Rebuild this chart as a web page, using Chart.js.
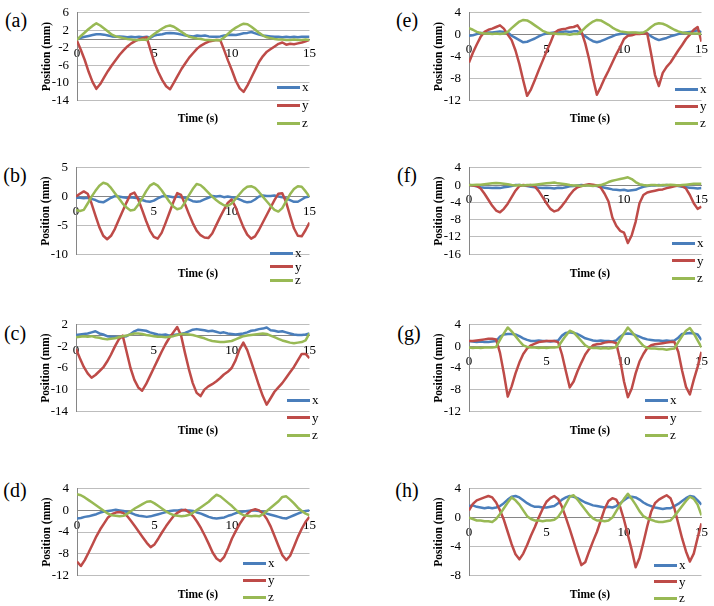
<!DOCTYPE html>
<html>
<head>
<meta charset="utf-8">
<script src="https://cdn.jsdelivr.net/npm/chart.js@4.4.0/dist/chart.umd.min.js"></script>
<style>
  html, body { margin: 0; padding: 0; background: #fff; }
  #fig { position: relative; width: 714px; height: 606px; overflow: hidden; font-family: "Liberation Serif", "Times New Roman", serif; color: #000; }
  #fig canvas { position: absolute; }
  .tag { position: absolute; font-size: 20px; line-height: 1; transform: translate(-50%, -50%); }
  .xt { position: absolute; font-size: 11.5px; font-weight: bold; white-space: nowrap; transform: translate(-50%, -50%); }
  .row { position: absolute; height: 14px; display: flex; align-items: center; font-size: 13px; }
  .sw { width: 23px; height: 3px; margin-right: 2px; }
</style>
</head>
<body>
<div id="fig"></div>
<script>
// ── shared time axis (s) and tick labels ──────────────────────
const TIME = [0, 0.25, 0.5, 0.75, 1, 1.25, 1.5, 1.75, 2, 2.25,
              2.5, 2.75, 3, 3.25, 3.5, 3.75, 4, 4.25, 4.5, 4.75,
              5, 5.25, 5.5, 5.75, 6, 6.25, 6.5, 6.75, 7, 7.25,
              7.5, 7.75, 8, 8.25, 8.5, 8.75, 9, 9.25, 9.5, 9.75,
              10, 10.25, 10.5, 10.75, 11, 11.25, 11.5, 11.75, 12, 12.25,
              12.5, 12.75, 13, 13.25, 13.5, 13.75, 14, 14.25, 14.5, 14.75,
              15];
const X_TICKS = [0, 5, 10, 15];

// ── (a) ──
const aTicks = [6, 2, -2, -6, -10, -14];
const aX = [0.0,0.3,0.5,0.7,0.9,1.1,1.1,1.0,0.8,0.6, 0.5,0.6,0.5,0.4,0.5,0.4,0.5,0.4,0.5,0.3,
            0.8,1.0,1.1,1.3,1.4,1.3,1.2,1.0,0.8,0.7, 0.6,0.8,0.7,0.8,0.6,0.5,0.5,0.6,0.8,0.9,
            1.0,0.9,1.1,1.3,1.4,1.6,1.3,1.0,0.8,0.7, 0.6,0.5,0.5,0.4,0.5,0.4,0.5,0.4,0.5,0.5, 0.5];
const aY = [-0.4,-2.5,-4.8,-7.5,-9.8,-11.4,-10.3,-8.8,-7.3,-6.0, -4.8,-3.6,-2.6,-1.7,-1.0,-0.5,-0.1,0.2,0.4,-2.6,
            -5.5,-7.6,-9.4,-10.8,-11.5,-10.0,-8.4,-6.8,-5.5,-4.2, -3.2,-2.2,-1.5,-1.0,-0.6,-0.4,-0.2,-0.3,-2.6,-5.0,
            -7.2,-9.6,-11.3,-12.1,-10.6,-8.8,-7.0,-5.2,-3.9,-2.9, -2.3,-1.7,-1.1,-0.8,-1.3,-1.1,-1.2,-1.0,-0.8,-0.5, -0.2];
const aZ = [-0.2,0.7,1.5,2.3,3.0,3.6,3.1,2.4,1.7,1.0, 0.6,0.4,0.2,0.0,-0.1,-0.2,-0.2,-0.1,-0.2,0.5,
            1.2,1.8,2.4,2.9,3.1,2.8,2.2,1.6,1.0,0.5, 0.3,0.1,0.0,-0.2,-0.2,-0.3,-0.2,-0.3,0.4,1.2,
            2.0,2.6,3.1,3.5,3.4,2.8,2.1,1.4,0.8,0.4, 0.2,0.0,-0.1,-0.1,-0.2,-0.2,-0.1,-0.2,-0.2,-0.1, -0.2];

// ── (e) ──
const eTicks = [4, 0, -4, -8, -12];
const eX = [-0.2,-0.1,0.1,0.3,0.3,0.4,0.4,0.5,0.6,0.5, 0.4,-0.2,-0.6,-1.0,-1.4,-1.3,-1.0,-0.7,-0.3,0.0,
            0.2,0.3,0.4,0.4,0.5,0.6,0.5,0.6,0.6,0.2, -0.3,-0.8,-1.2,-1.4,-1.2,-0.9,-0.6,-0.3,0.0,0.1,
            0.2,0.2,0.3,0.3,0.3,0.3,0.2,-0.3,-0.7,-1.0, -0.8,-0.6,-0.3,-0.1,0.1,0.3,0.4,0.5,0.6,0.8, 0.4];
const eY = [-5.1,-3.3,-1.8,-0.4,0.5,0.9,1.1,1.4,1.7,1.1, 0.0,-1.0,-2.9,-5.4,-8.4,-11.2,-10.0,-8.3,-6.5,-4.8,
            -3.1,-1.5,0.3,0.8,1.0,1.1,1.3,1.4,1.7,0.6, -1.6,-4.5,-8.0,-11.0,-9.6,-8.0,-6.6,-5.1,-3.6,-2.3,
            -0.8,-0.2,-0.1,0.1,0.1,0.2,0.2,-3.5,-7.4,-9.4, -7.0,-5.9,-5.1,-4.0,-2.9,-1.9,-0.8,0.0,0.9,1.4, -1.3];
const eZ = [1.2,0.9,0.5,0.3,0.2,0.2,0.1,0.2,0.1,0.2, 0.5,1.2,1.8,2.4,2.7,2.6,2.2,1.7,1.2,0.7,
            0.4,0.2,0.2,0.1,0.1,0.1,0.0,0.1,0.1,0.6, 1.3,1.9,2.4,2.7,2.6,2.2,1.8,1.3,0.9,0.6,
            0.5,0.4,0.4,0.4,0.3,0.4,0.8,1.4,1.9,2.1, 2.0,1.7,1.3,0.9,0.6,0.4,0.3,0.2,0.2,0.2, 0.1];

// ── (b) ──
const bTicks = [5, 0, -5, -10];
const bX = [-0.2,-0.2,-0.3,-0.2,-0.4,-0.6,-0.9,-1.0,-0.6,-0.2, 0.1,0.0,-0.1,-0.2,-0.1,-0.2,-0.3,-0.6,-0.8,-0.9,
            -0.7,-0.3,0.0,0.1,0.0,-0.1,0.0,-0.1,-0.2,-0.5, -0.8,-0.9,-0.8,-0.5,-0.2,0.1,0.0,0.1,-0.1,0.0,
            -0.1,-0.2,-0.5,-0.8,-1.0,-0.9,-0.5,0.0,0.2,0.1, 0.1,0.2,0.0,-0.1,-0.3,-0.6,-0.9,-0.9,-0.5,-0.1, 0.0];
const bY = [0.0,0.5,0.9,0.5,-1.2,-3.3,-5.3,-6.8,-7.4,-6.8, -5.6,-4.0,-2.5,-1.0,0.4,0.7,-0.5,-2.3,-4.2,-5.9,
            -7.0,-7.3,-6.3,-4.6,-2.8,-1.0,0.6,0.3,-1.3,-3.0, -4.6,-5.9,-6.7,-7.1,-7.2,-6.4,-5.0,-3.6,-2.3,-1.1,
            -0.5,-1.8,-3.6,-5.3,-6.6,-7.3,-6.9,-5.8,-4.5,-3.2, -1.9,-0.6,0.5,0.6,-1.0,-3.3,-5.5,-6.8,-6.9,-5.8, -4.5];
const bZ = [-2.3,-2.5,-2.3,-1.2,0.0,1.0,1.9,2.4,2.2,1.5, 0.6,-0.3,-1.2,-1.9,-2.4,-2.3,-1.4,-0.3,0.9,1.9,
            2.3,1.9,1.1,0.1,-0.9,-1.7,-2.2,-2.0,-1.0,0.2, 1.3,2.2,2.0,1.4,0.7,0.0,-0.6,-1.1,-1.5,-1.6,
            -1.2,-0.4,0.4,1.2,1.7,1.8,1.5,0.8,0.0,-0.8, -1.6,-2.3,-2.6,-2.0,-0.8,0.4,1.3,1.8,1.7,0.9, 0.0];

// ── (f) ──
const fTicks = [4, 0, -4, -8, -12, -16];
const fX = [0.0,-0.1,-0.3,-0.5,-0.6,-0.6,-0.7,-0.6,-0.7,-0.5, -0.4,-0.2,0.0,0.0,-0.1,-0.2,-0.4,-0.5,-0.6,-0.7,
            -0.6,-0.7,-0.8,-0.6,-0.7,-0.5,-0.3,-0.2,-0.1,0.0, -0.1,0.0,-0.1,-0.2,-0.4,-0.6,-0.8,-1.0,-1.1,-1.2,
            -1.1,-1.3,-1.2,-1.1,-0.7,-0.4,-0.2,-0.1,-0.1,0.0, -0.1,0.0,-0.1,-0.1,-0.2,-0.4,-0.5,-0.6,-0.7,-0.8, -0.7];
const fY = [0.0,-0.1,-0.2,-0.8,-2.0,-3.4,-4.8,-5.9,-6.3,-5.5, -4.3,-2.8,-1.3,-0.2,0.0,-0.1,0.0,-0.3,-1.4,-2.8,
            -4.2,-5.5,-6.1,-5.8,-4.8,-3.6,-2.3,-1.2,-0.5,-0.2, 0.0,0.2,0.1,-0.1,-0.6,-2.0,-3.8,-7.5,-9.4,-10.6,
            -11.0,-13.4,-11.6,-8.5,-4.2,-2.3,-1.7,-1.5,-1.3,-1.1, -1.0,-0.7,-0.5,-0.3,-0.1,-0.2,-0.8,-2.3,-4.2,-5.5, -5.0];
const fZ = [0.0,0.0,0.1,0.1,0.2,0.3,0.4,0.5,0.4,0.3, 0.2,0.0,-0.1,0.0,-0.1,0.0,0.0,0.1,0.2,0.3,
            0.4,0.5,0.6,0.4,0.3,0.2,0.0,-0.1,-0.1,-0.2, -0.1,-0.1,-0.2,-0.1,0.0,0.3,0.7,1.0,1.2,1.4,
            1.6,1.8,1.4,0.7,0.2,0.0,-0.1,0.0,0.0,-0.1, 0.0,0.0,0.1,0.0,-0.1,0.0,0.1,0.2,0.3,0.3, 0.3];

// ── (c) ──
const cTicks = [2, -2, -6, -10, -14];
const cX = [0.1,0.2,0.3,0.4,0.6,0.8,0.4,0.2,-0.1,-0.2, -0.2,-0.3,-0.2,-0.1,0.3,0.8,1.1,1.0,0.9,0.6,
            0.4,0.2,0.1,0.2,0.0,0.1,0.2,0.3,0.5,0.8, 1.1,1.2,1.1,1.0,0.8,0.9,0.7,0.5,0.6,0.4,
            0.3,0.2,0.3,0.4,0.6,0.9,1.0,1.2,1.3,1.5, 1.0,0.9,0.7,0.8,0.6,0.4,0.2,0.1,0.1,0.2, 0.4];
const cY = [-2.5,-4.2,-5.8,-7.0,-7.8,-7.3,-6.6,-5.9,-4.8,-3.5, -2.0,-0.7,0.0,-3.0,-6.0,-8.2,-9.6,-10.2,-9.0,-7.5,
            -6.0,-4.5,-3.0,-1.6,-0.4,0.6,1.6,0.0,-3.2,-6.2, -8.8,-10.6,-11.2,-10.0,-9.4,-9.0,-8.5,-7.9,-7.2,-6.7,
            -6.0,-4.6,-2.6,-1.3,-2.7,-4.8,-7.0,-9.2,-11.2,-12.8, -11.6,-10.4,-9.6,-8.8,-7.8,-6.8,-5.8,-4.6,-3.4,-3.4, -4.2];
const cZ = [-0.3,-0.2,-0.1,-0.2,-0.1,-0.3,-0.4,-0.6,-0.7,-0.6, -0.5,-0.3,-0.1,0.0,0.2,0.4,0.4,0.3,0.1,0.0,
            -0.1,-0.2,-0.2,-0.3,-0.2,-0.1,0.1,0.3,0.3,0.2, 0.1,-0.1,-0.3,-0.5,-0.8,-1.0,-1.1,-1.2,-1.2,-1.1,
            -1.0,-0.7,-0.4,-0.1,0.0,0.1,0.2,0.3,0.4,0.3, 0.0,-0.3,-0.6,-0.9,-1.1,-1.3,-1.4,-1.3,-1.2,-0.9, 0.4];

// ── (g) ──
const gTicks = [4, 0, -4, -8, -12];
const gX = [1.0,0.9,0.8,0.9,0.8,0.8,0.9,1.0,1.8,2.2, 2.3,2.3,2.2,1.9,1.5,1.2,1.0,1.0,1.1,1.0,
            1.0,0.9,1.0,1.1,2.0,2.5,2.6,2.5,2.3,1.9, 1.5,1.3,1.1,1.0,1.1,1.0,1.0,0.9,1.1,1.8,
            2.3,2.4,2.3,2.1,1.8,1.5,1.3,1.2,1.1,1.1, 1.0,1.1,1.0,1.1,1.6,2.3,2.4,2.5,2.4,2.2, 1.2];
const gY = [1.0,1.0,1.1,1.2,1.3,1.4,1.4,1.3,-1.2,-5.0, -9.3,-7.4,-5.0,-3.0,-1.4,-0.4,0.2,0.5,0.8,0.9,
            1.0,1.0,1.0,0.8,-1.5,-4.6,-7.6,-6.5,-4.6,-3.0, -1.5,-0.5,0.2,0.4,0.5,0.7,0.8,0.8,0.6,-2.5,
            -6.5,-9.4,-7.8,-5.0,-2.8,-1.4,-0.3,0.2,0.4,0.5, 0.6,0.7,0.8,0.8,-1.0,-4.5,-7.5,-8.9,-6.2,-3.8, -1.0];
const gZ = [-0.2,-0.3,-0.2,-0.3,-0.2,-0.2,-0.2,-0.1,1.2,2.4, 3.5,2.8,1.9,1.0,0.2,-0.1,-0.2,-0.2,-0.3,-0.2,
            -0.3,-0.2,-0.2,-0.1,1.0,2.0,2.9,2.6,1.8,1.0, 0.2,-0.2,-0.3,-0.3,-0.4,-0.3,-0.4,-0.3,-0.1,1.2,
            2.4,3.5,2.7,1.8,0.9,0.1,-0.3,-0.4,-0.4,-0.5, -0.5,-0.6,-0.5,-0.4,0.8,1.9,2.9,3.4,2.4,1.1, -0.2];

// ── (d) ──
const dTicks = [4, 0, -4, -8, -12];
const dX = [-1.5,-1.4,-1.2,-1.1,-0.9,-0.7,-0.4,-0.2,-0.1,0.0, 0.1,0.0,-0.1,-0.3,-0.5,-0.8,-1.0,-1.1,-1.2,-1.1,
            -0.9,-0.7,-0.5,-0.3,-0.1,0.0,0.0,0.1,0.0,0.0, -0.1,-0.4,-0.6,-0.9,-1.2,-1.4,-1.5,-1.4,-1.3,-1.0,
            -0.8,-0.5,-0.3,-0.2,-0.1,0.0,0.0,-0.1,-0.3,-0.6, -0.8,-1.0,-1.2,-1.4,-1.5,-1.2,-0.9,-0.6,-0.3,-0.1, 0.0];
const dY = [-9.5,-10.3,-9.2,-7.8,-6.3,-4.8,-3.5,-2.4,-1.3,-0.7, -0.4,-0.3,-0.5,-1.1,-2.0,-3.0,-4.0,-5.0,-6.0,-6.8,
            -6.3,-5.2,-4.0,-2.9,-1.9,-1.0,-0.4,0.0,0.1,-0.4, -1.1,-2.1,-3.3,-4.7,-6.2,-7.8,-8.9,-9.4,-8.6,-7.0,
            -5.2,-3.8,-2.5,-1.4,-0.6,0.0,0.2,0.0,-0.6,-1.6, -3.0,-4.8,-6.6,-8.3,-9.2,-8.4,-6.7,-4.9,-3.4,-2.1, -1.2];
const dZ = [3.0,2.8,2.4,1.9,1.4,0.9,0.4,-0.1,-0.6,-0.9, -1.0,-1.1,-1.0,-0.6,-0.1,0.4,0.8,1.2,1.6,1.7,
            1.3,0.8,0.3,-0.2,-0.6,-0.9,-1.0,-1.1,-1.0,-0.8, -0.4,0.1,0.6,1.1,1.6,2.3,2.9,2.6,2.0,1.4,
            0.8,0.1,-0.5,-0.9,-1.0,-1.1,-1.0,-1.1,-0.7,-0.1, 0.5,1.1,1.7,2.5,2.6,2.0,1.3,0.5,-0.1,-0.6, -0.9];

// ── (h) ──
const hTicks = [4, 0, -4, -8];
const hX = [1.6,1.7,1.5,1.4,1.3,1.4,1.3,1.4,1.6,2.0, 2.5,2.9,3.0,2.8,2.4,2.0,1.7,1.5,1.5,1.4,
            1.4,1.5,1.6,2.0,2.5,2.8,3.0,2.9,2.7,2.4, 2.1,1.9,1.7,1.6,1.5,1.4,1.5,1.4,1.6,2.0,
            2.4,2.8,2.9,2.8,2.5,2.1,1.8,1.6,1.4,1.3, 1.2,1.3,1.3,1.6,1.9,2.3,2.7,3.0,2.9,2.4, 1.8];
const hY = [1.0,1.9,2.4,2.6,2.8,3.0,2.8,2.1,1.0,-0.3, -2.0,-3.7,-5.1,-5.8,-5.0,-3.8,-2.5,-1.3,0.0,1.2,
            2.2,2.7,3.0,2.6,1.5,0.0,-1.6,-3.3,-5.0,-6.6, -6.2,-4.7,-3.3,-2.0,-0.4,1.2,2.3,2.7,2.5,1.5,
            -0.3,-2.4,-4.5,-6.9,-5.6,-3.5,-1.2,0.8,2.0,2.5, 2.8,3.1,2.7,1.3,-0.8,-2.9,-4.7,-6.1,-5.0,-2.8, -0.8];
const hZ = [0.0,-0.2,-0.4,-0.4,-0.5,-0.5,-0.6,-0.2,0.5,1.3, 2.1,2.8,2.4,1.8,1.0,0.2,-0.2,-0.4,-0.4,-0.5,
            -0.4,-0.4,-0.3,0.1,0.9,1.9,2.9,3.1,2.5,1.8, 1.1,0.4,-0.1,-0.4,-0.4,-0.5,-0.4,0.0,0.9,1.8,
            2.6,3.3,2.6,1.8,0.9,0.2,-0.1,-0.3,-0.5,-0.6, -0.6,-0.5,-0.4,0.2,0.9,1.6,2.3,2.9,2.6,1.8, 0.3];

const SERIES = ['x', 'y', 'z'];
const COLORS = { x: '#4a7ebb', y: '#be4b48', z: '#98b954' };

// layout: plot box [left, right, top, bottom], panel tag centre, "Time (s)" centre, key [left, first row, row step]
const PANELS = [
    { tag: '(a)', box: [77, 313, 7, 106],    tagAt: [16, 20],   timeAt: [198, 118], key: [277, 87, 18],    ticks: aTicks, data: [aX, aY, aZ] },
    { tag: '(e)', box: [469, 705, 7, 106],   tagAt: [407, 20],  timeAt: [590, 118], key: [675, 89, 17],    ticks: eTicks, data: [eX, eY, eZ] },
    { tag: '(b)', box: [76, 313, 162, 260],  tagAt: [15, 175],  timeAt: [198, 273], key: [270, 253, 13.5], ticks: bTicks, data: [bX, bY, bZ] },
    { tag: '(f)', box: [469, 705, 162, 260], tagAt: [407, 175], timeAt: [590, 273], key: [672, 243, 17.5], ticks: fTicks, data: [fX, fY, fZ] },
    { tag: '(c)', box: [76, 313, 319, 417],  tagAt: [15, 333],  timeAt: [198, 430], key: [287, 400, 17.5], ticks: cTicks, data: [cX, cY, cZ] },
    { tag: '(g)', box: [469, 705, 319, 417], tagAt: [409, 333], timeAt: [590, 430], key: [645, 400, 17.5], ticks: gTicks, data: [gX, gY, gZ] },
    { tag: '(d)', box: [77, 313, 483, 581],  tagAt: [15, 490],  timeAt: [198, 594], key: [243, 563, 17],   ticks: dTicks, data: [dX, dY, dZ] },
    { tag: '(h)', box: [469, 705, 483, 581], tagAt: [407, 490], timeAt: [590, 594], key: [654, 565, 16.5], ticks: hTicks, data: [hX, hY, hZ] }
];

const fig = document.getElementById('fig');
const tickFont = { family: '"Liberation Serif", "Times New Roman", serif', size: 13 };

function addText(cls, text, x, y) {
    const el = document.createElement('div');
    el.className = cls;
    el.textContent = text;
    el.style.left = x + 'px';
    el.style.top = y + 'px';
    fig.appendChild(el);
}

function addKey(p) {
    const [kx, ky, step] = p.key;
    SERIES.forEach((s, i) => {
        const row = document.createElement('div');
        row.className = 'row';
        row.style.left = kx + 'px';
        row.style.top = (ky + i * step - 7) + 'px';
        const sw = document.createElement('span');
        sw.className = 'sw';
        sw.style.background = COLORS[s];
        row.appendChild(sw);
        row.appendChild(document.createTextNode(s));
        fig.appendChild(row);
    });
}

function drawPanel(p) {
    const [L, R, T, B] = p.box;
    const w = R - L + 55, h = B - T + 20;
    const canvas = document.createElement('canvas');
    canvas.width = w;
    canvas.height = h;
    canvas.style.left = (L - 45) + 'px';
    canvas.style.top = (T - 10) + 'px';
    canvas.style.width = w + 'px';
    canvas.style.height = h + 'px';
    fig.appendChild(canvas);

    const yTicks = p.ticks.slice().sort((a, b) => a - b);

    new Chart(canvas, {
        type: 'line',
        data: {
            datasets: SERIES.map((s, i) => ({
                label: s,
                data: TIME.map((t, k) => ({ x: t, y: p.data[i][k] })),
                borderColor: COLORS[s],
                backgroundColor: COLORS[s],
                borderWidth: 2.5,
                borderJoinStyle: 'round',
                pointRadius: 0,
                tension: 0,
                fill: false,
                order: 3 - i
            }))
        },
        options: {
            responsive: false,
            animation: false,
            events: [],
            layout: { padding: { left: 4, right: 10, top: 10, bottom: 10 } },
            plugins: { legend: { display: false }, tooltip: { enabled: false } },
            scales: {
                x: {
                    type: 'linear',
                    min: 0,
                    max: 15,
                    position: { y: 0 },
                    afterBuildTicks: sc => { sc.ticks = X_TICKS.map(v => ({ value: v })); },
                    afterFit: sc => { sc.height = 0; },
                    grid: { display: false, drawTicks: false },
                    border: { display: true, color: '#868686', width: 1 },
                    ticks: { padding: 7, maxRotation: 0, autoSkip: false, color: '#000', font: tickFont }
                },
                y: {
                    type: 'linear',
                    min: yTicks[0],
                    max: yTicks[yTicks.length - 1],
                    afterBuildTicks: sc => { sc.ticks = yTicks.map(v => ({ value: v })); },
                    afterFit: sc => { sc.width = 41; },
                    grid: { color: '#bdbdbd', drawTicks: false },
                    border: { color: '#868686' },
                    ticks: { padding: 8, color: '#000', font: tickFont },
                    title: {
                        display: true,
                        text: 'Position (mm)',
                        color: '#000',
                        padding: { top: 4, bottom: 0 },
                        font: { family: tickFont.family, size: 11.5, weight: 'bold' }
                    }
                }
            }
        }
    });

    addText('tag', p.tag, p.tagAt[0], p.tagAt[1]);
    addText('xt', 'Time (s)', p.timeAt[0], p.timeAt[1]);
    addKey(p);
}

PANELS.forEach(drawPanel);
</script>
</body>
</html>
